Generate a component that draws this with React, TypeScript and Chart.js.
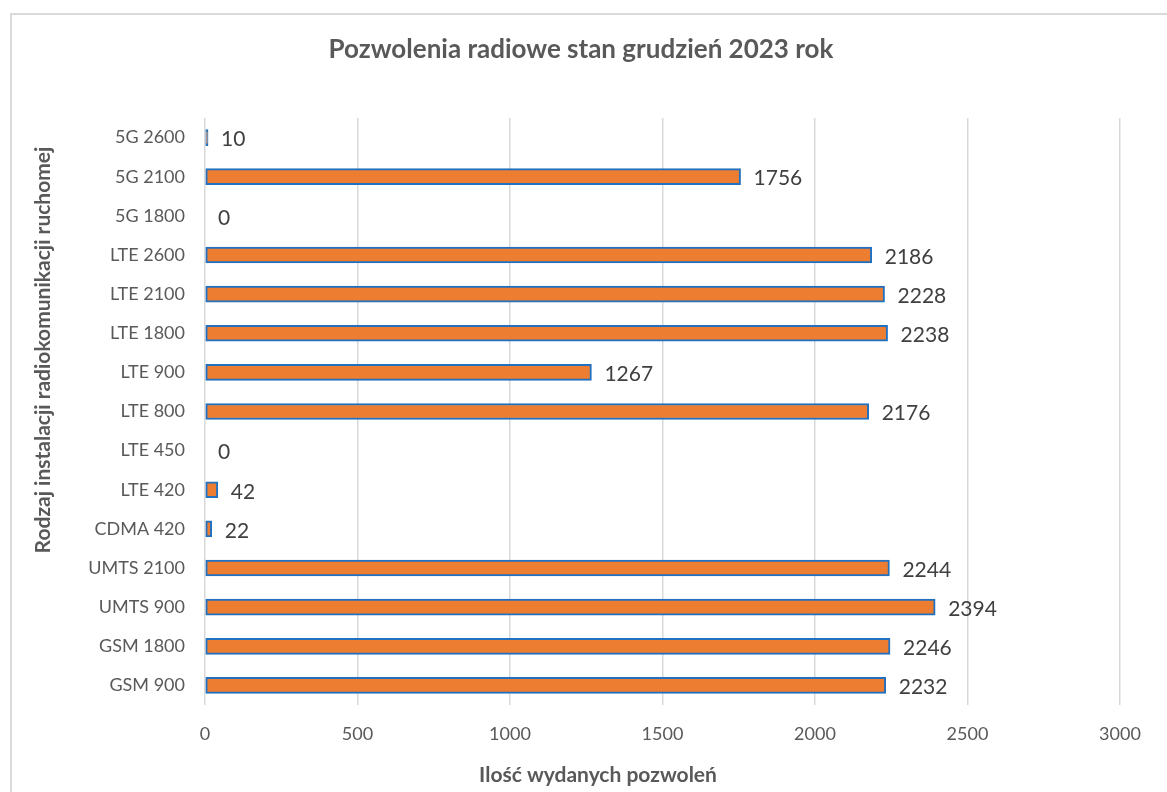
import React, { useEffect, useRef } from "react";
import { Chart, registerables } from "chart.js";

Chart.register(...registerables);

const categories = [
  "5G 2600", "5G 2100", "5G 1800", "LTE 2600", "LTE 2100", "LTE 1800", "LTE 900",
  "LTE 800", "LTE 450", "LTE 420", "CDMA 420", "UMTS 2100", "UMTS 900", "GSM 1800", "GSM 900",
];
const permits = [10, 1756, 0, 2186, 2228, 2238, 1267, 2176, 0, 42, 22, 2244, 2394, 2246, 2232];
const xTicks = [0, 500, 1000, 1500, 2000, 2500, 3000];

const titleText = "Pozwolenia radiowe stan grudzień 2023 rok";
const xTitle = "Ilość wydanych pozwoleń";
const yTitle = "Rodzaj instalacji radiokomunikacji ruchomej";

const FONT = "Lato, 'Open Sans', sans-serif";

const valueLabels = {
  id: "valueLabels",
  afterDatasetsDraw(chart: any) {
    const ctx = chart.ctx;
    const meta = chart.getDatasetMeta(0);
    ctx.save();
    ctx.font = `21px ${FONT}`;
    ctx.fillStyle = "#404040";
    ctx.textAlign = "left";
    ctx.textBaseline = "middle";
    meta.data.forEach((bar: any, i: number) => {
      const v = chart.data.datasets[0].data[i];
      ctx.fillText(String(v), bar.x + 13, bar.y + 2);
    });
    ctx.restore();
  },
};

const titles = {
  id: "titles",
  afterDraw(chart: any) {
    const ctx = chart.ctx;
    ctx.save();
    ctx.fillStyle = "#595959";
    ctx.textAlign = "center";
    ctx.textBaseline = "middle";
    ctx.font = `bold 26px ${FONT}`;
    ctx.fillText(titleText, 581, 50);
    ctx.font = `bold 21px ${FONT}`;
    ctx.fillText(xTitle, 598, 775);
    ctx.translate(43, 350);
    ctx.rotate(-Math.PI / 2);
    ctx.fillText(yTitle, 0, 0);
    ctx.restore();
  },
};

export default function App() {
  const ref = useRef<HTMLCanvasElement>(null);
  useEffect(() => {
    if (!ref.current) return;
    const chart = new Chart(ref.current, {
      type: "bar",
      data: {
        labels: categories,
        datasets: [
          {
            data: permits,
            backgroundColor: "#ED7D31",
            borderColor: "#2171C0",
            borderWidth: 2,
            borderSkipped: false,
            barThickness: 16,
          },
        ],
      },
      options: {
        indexAxis: "y",
        responsive: false,
        animation: false,
        layout: { padding: { left: 12, right: 47, top: 118, bottom: 0 } },
        plugins: {
          legend: { display: false },
          tooltip: { enabled: false },
          title: { display: false },
        },
        scales: {
          x: {
            min: 0,
            max: 3000,
            afterBuildTicks: (scale: any) => {
              scale.ticks = xTicks.map((v) => ({ value: v }));
            },
            afterFit: (scale: any) => {
              scale.height = 87;
            },
            grid: { color: "#D9D9D9", lineWidth: 1.5, drawTicks: false },
            border: { display: false },
            ticks: {
              color: "#595959",
              font: { family: FONT, size: 18 },
              padding: 18,
              callback: (v: any) => String(v),
            },
          },
          y: {
            afterFit: (scale: any) => {
              scale.width = 193;
            },
            grid: { display: false, drawTicks: false },
            border: { display: false },
            ticks: {
              color: "#595959",
              font: { family: FONT, size: 18 },
              padding: 20,
            },
          },
        },
      },
      plugins: [valueLabels, titles],
    });
    return () => chart.destroy();
  }, []);

  return (
    <div style={{ position: "absolute", left: 0, top: 0, width: 1167, height: 792, background: "#fff", overflow: "hidden" }}>
      <div
        style={{
          position: "absolute",
          left: 10,
          top: 13,
          width: 1170,
          height: 800,
          border: "2px solid #D9D9D9",
          boxSizing: "border-box",
        }}
      />
      <canvas ref={ref} width={1167} height={792} style={{ position: "absolute", left: 0, top: 0 }} />
    </div>
  );
}
